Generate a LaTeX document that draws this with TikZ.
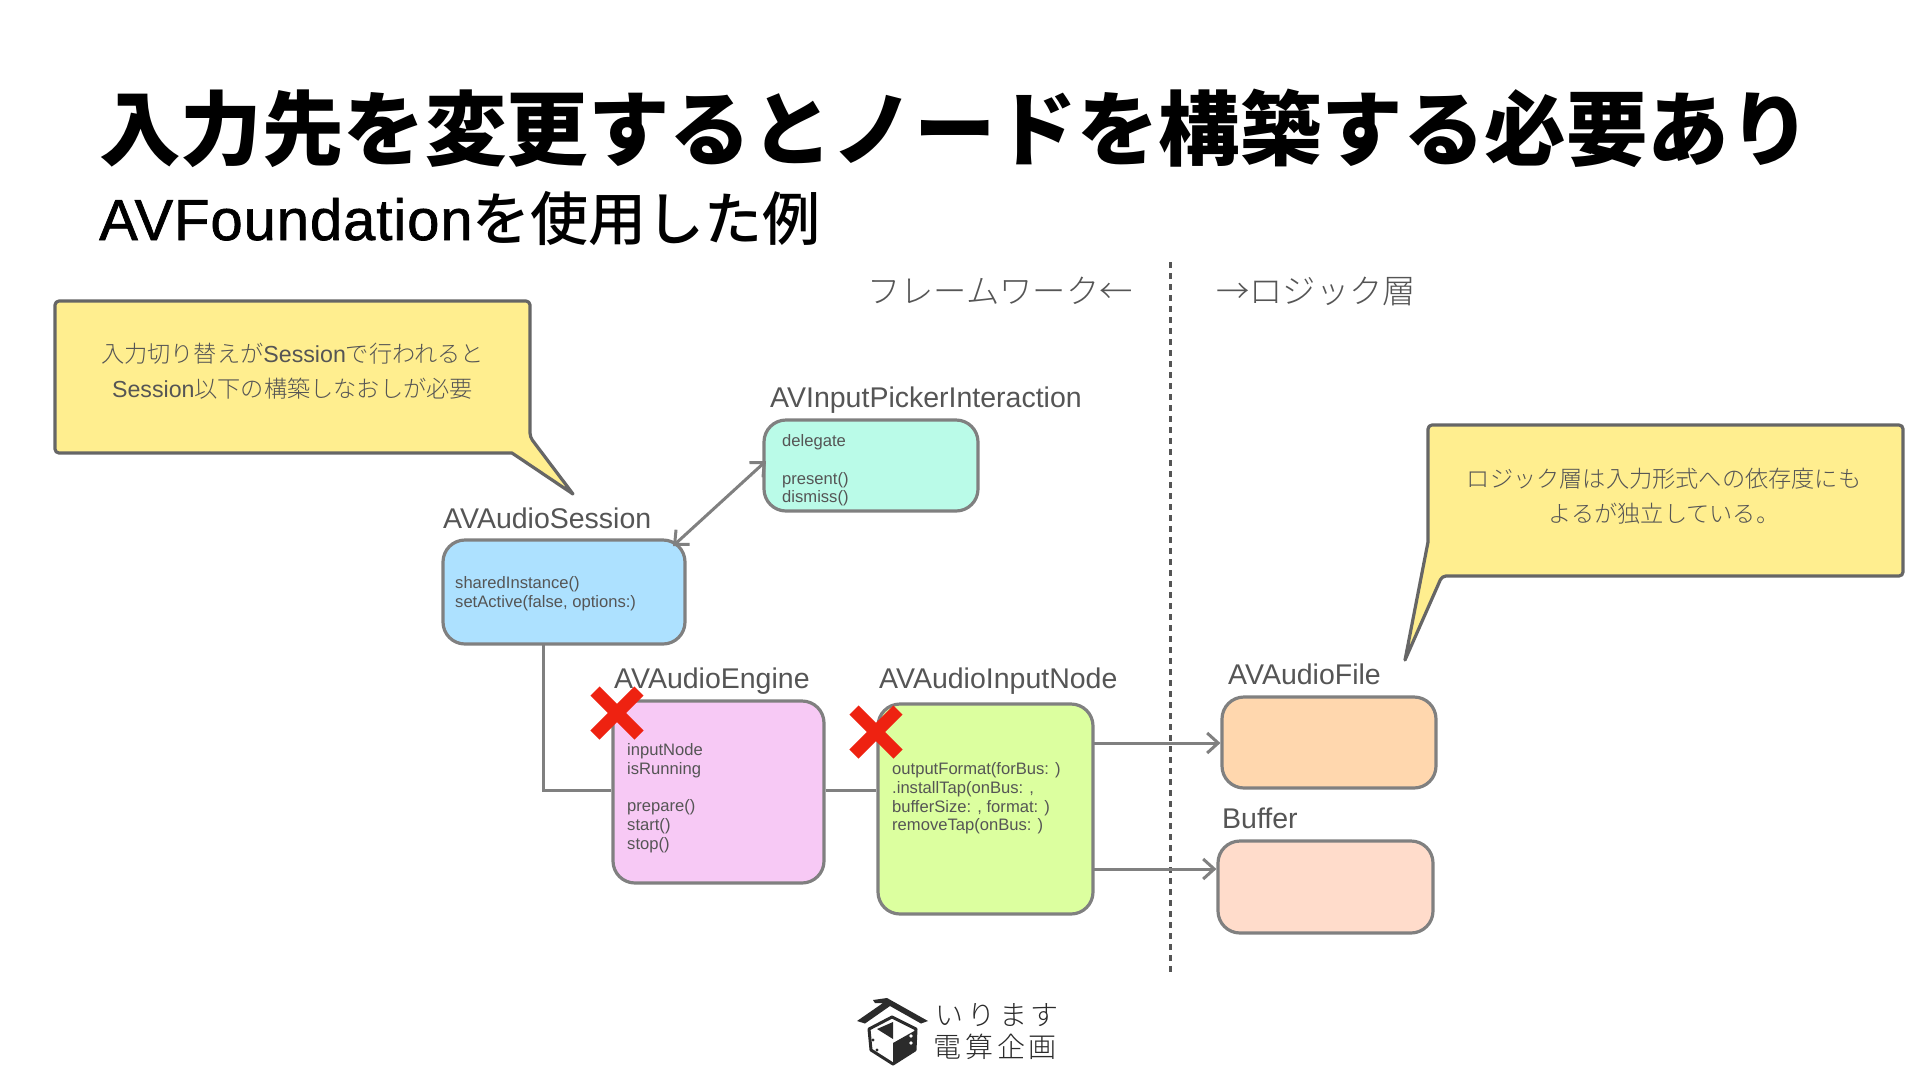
\documentclass[tikz,border=0pt]{standalone}
\usepackage{fontspec}
\usetikzlibrary{arrows.meta,calc}
\setmainfont{Noto Sans CJK JP}
\newfontfamily\latf{Liberation Sans}
\newfontfamily\latm[FakeBold=1.2,LetterSpace=1.6]{Liberation Sans}
\newfontfamily\jpm{Noto Sans CJK JP Medium}
\newfontfamily\jpl{Noto Sans CJK JP Light}
\newfontfamily\logof[LetterSpace=14]{Noto Sans CJK JP Light}
\newcommand{\lat}[1]{{\latf #1}}
\newcommand{\fsz}[1]{\fontsize{#1}{#1}\selectfont}
\definecolor{edgegray}{HTML}{808080}
\definecolor{calloutedge}{HTML}{666666}
\definecolor{calloutfill}{HTML}{FFEE8F}
\definecolor{txtgray}{HTML}{555555}
\definecolor{crossred}{HTML}{EE2211}
\definecolor{logodark}{HTML}{2B2B2B}
\definecolor{csession}{HTML}{ADE1FF}
\definecolor{cpicker}{HTML}{BAFBE8}
\definecolor{cengine}{HTML}{F7C9F5}
\definecolor{cinput}{HTML}{DCFF9F}
\definecolor{cfile}{HTML}{FFD7AE}
\definecolor{cbuffer}{HTML}{FFDCCB}
\tikzset{
  classbox/.style={draw=edgegray,line width=3.2pt,rounded corners=22pt,inner sep=0pt},
  classname/.style={anchor=base west,inner sep=0pt,text=txtgray,font=\latf\fsz{28.5}},
  members/.style={anchor=north west,inner sep=0pt,text=txtgray,align=left,font=\latf\fontsize{16.6}{18.9}\selectfont},
  link/.style={draw=edgegray,line width=3pt},
  barb/.tip={Straight Barb[length=11pt,width=20pt,line width=3pt]},
  linkarrow/.style={link,-barb},
  callout/.style={draw=calloutedge,fill=calloutfill,line width=3.2pt,line join=round},
  callouttext/.style={text=txtgray,align=center,inner sep=0pt,font=\jpl\fontsize{23.2}{35.5}\selectfont},
  crossbar/.style={draw=crossred,line width=13pt},
  heading/.style={text=txtgray,inner sep=0pt,anchor=base west,font=\jpl\fsz{33.3}},
  logotext/.style={text=logodark,inner sep=0pt,anchor=base west},
}
\begin{document}
\begin{tikzpicture}[x=1pt,y=-1pt]
\useasboundingbox (0,0) rectangle (1920,1080);
\fill[white] (0,0) rectangle (1920,1080);

% titles
\node[anchor=base west,inner sep=0pt,font=\bfseries\fsz{81.5}] (title) at (99,159) {入力先を変更するとノードを構築する必要あり};
\node[anchor=base west,inner sep=0pt,font=\fsz{58}] (subtitle) at (99,240) {{\latm AVFoundation}{\jpm を使用した例}};

% divider and headings
\coordinate (divtop) at (1170.5,262);
\coordinate (divbot) at (1170.5,976);
\draw[draw=txtgray,line width=3pt,dash pattern=on 6pt off 5pt] (divtop) -- (divbot);
\node[heading] (hfw) at (867,303) {フレームワーク←};
\node[heading] (hlg) at (1216,303) {→ロジック層};

% boxes
\node[classbox,fill=csession,minimum width=242pt,minimum height=104pt] (session) at (564,592) {};
\node[classbox,fill=cpicker,minimum width=214pt,minimum height=91pt] (picker) at (871,465.5) {};
\node[classbox,fill=cengine,minimum width=211pt,minimum height=182pt] (engine) at (718.5,792) {};
\node[classbox,fill=cinput,minimum width=215pt,minimum height=210pt] (input) at (985.5,809) {};
\node[classbox,fill=cfile,minimum width=214pt,minimum height=91pt] (file) at (1329,742.5) {};
\node[classbox,fill=cbuffer,minimum width=215pt,minimum height=92pt] (buffer) at (1325.5,887) {};

% class names
\node[classname] (nsession) at (443,528) {AVAudioSession};
\node[classname] (npicker) at (770,407) {AVInputPickerInteraction};
\node[classname] (nengine) at (614,688) {AVAudioEngine};
\node[classname] (ninput) at (879,688) {AVAudioInputNode};
\node[classname] (nfile) at (1228,684) {AVAudioFile};
\node[classname] (nbuffer) at (1222,828) {Buffer};

% members
\node[members] (msession) at (455,576) {sharedInstance()\\setActive(false, options:)};
\node[members] (mpicker) at (782,434) {delegate\\[18.9pt]present()\\dismiss()};
\node[members] (mengine) at (627,743) {inputNode\\isRunning\\[18.9pt]prepare()\\start()\\stop()};
\node[members] (minput) at (892,762) {outputFormat(forBus: )\\.installTap(onBus: ,\\bufferSize: , format: )\\removeTap(onBus: )};

% connectors
\coordinate (sessdrop) at (543,644);
\coordinate (sesscorner) at (543,790);
\coordinate (pickerend) at (766,461);
\coordinate (sessend) at (673,546);
\draw[link,barb-barb] (sessend) -- (pickerend);
\draw[link] (sessdrop) -- (sesscorner) -- (engine.west |- sesscorner);
\draw[link] (engine.east |- sesscorner) -- (input.west |- sesscorner);
\coordinate (tofile) at (1093,743);
\coordinate (tobuf) at (1093,869);
\draw[linkarrow] (tofile) -- (file.west |- tofile);
\draw[linkarrow] (tobuf) -- (buffer.west |- tobuf);

% red crosses
\coordinate (x1) at (617,713);
\coordinate (x2) at (876,732);
\draw[crossbar] ($(x1)+(-22,-22)$) -- ($(x1)+(22,22)$);
\draw[crossbar] ($(x1)+(22,-22)$) -- ($(x1)+(-22,22)$);
\draw[crossbar] ($(x2)+(-22,-22)$) -- ($(x2)+(22,22)$);
\draw[crossbar] ($(x2)+(22,-22)$) -- ($(x2)+(-22,22)$);

% callouts
\draw[callout,rounded corners=4pt] (55,301) -- (530,301) -- (530,437) [sharp corners] -- (573,494) -- (512,453) [rounded corners=4pt] -- (55,453) -- cycle;
\node[callouttext] (c1) at (292.5,371) {入力切り替えが{\latf Session}で行われると\\{\latf Session}以下の構築しなおしが必要};
\draw[callout,rounded corners=4pt] (1428,425) -- (1903,425) -- (1903,576) -- (1442,576) [sharp corners] -- (1405,660) -- (1428,542) [rounded corners=4pt] -- cycle;
\node[callouttext] (c2) at (1664,496) {ロジック層は入力形式への依存度にも\\よるが独立している。};

% logo
\fill[logodark] (857,1021) -- (883,1003) -- (875,1003) -- (873,1000) -- (887,998) -- (928,1021) -- (921,1023.5) -- (890,1006) -- (865,1023.5) -- cycle;
\draw[logodark,line width=3pt,line join=round,fill=white] (869,1029) -- (892,1017) -- (916,1029) -- (915,1050) -- (893,1064) -- (871,1050) -- cycle;
\fill[logodark] (893,1043) -- (916,1030) -- (915,1050) -- (893,1065) -- cycle;
\fill[logodark] (877,1029) -- (893,1022) -- (893,1039) -- cycle;
\fill[white] (891,1049) circle (1.8pt) (891,1056) circle (1.8pt) (911,1036) circle (1.8pt) (911,1043) circle (1.8pt);
\fill[logodark] (873,1040) circle (1.6pt) (877,1050) circle (1.6pt);
\node[logotext,font=\logof\fsz{28}] (logo1) at (935,1025) {いります};
\node[logotext,font=\logof\fsz{28}] (logo2) at (933,1057) {電算企画};
\end{tikzpicture}
\end{document}
